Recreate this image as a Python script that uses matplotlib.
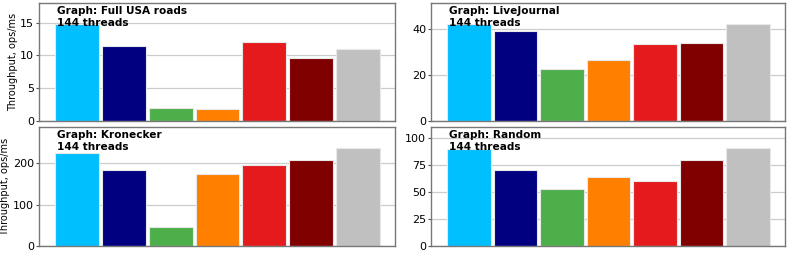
import matplotlib
matplotlib.use("Agg")
import matplotlib.pyplot as plt
import numpy as np

titles = ["Graph: Full USA roads", "Graph: LiveJournal", "Graph: Kronecker", "Graph: Random"]
threads_label = "144 threads"
usa = [14.85, 11.4, 2.04, 1.78, 12.1, 9.66, 11.03]
livejournal = [42.3, 39.0, 22.8, 26.6, 33.4, 33.9, 42.2]
kronecker = [224, 183, 46, 173.6, 195, 206.8, 235.8]
random_g = [90.3, 70.5, 53.1, 63.7, 60.0, 79.5, 90.7]
colors = ["#00BFFF", "#000080", "#4DAF4A", "#FF7F00", "#E41A1C", "#800000", "#C0C0C0"]
ylims = [18, 51.4, 287, 110.5]
yticks = [[0, 5, 10, 15], [0, 20, 40], [0, 100, 200], [0, 25, 50, 75, 100]]
series = [usa, livejournal, kronecker, random_g]

fig = plt.figure(figsize=(7.89, 2.56), dpi=100)
positions = [
    [39/789, 135/256, 356/789, 118/256],
    [431/789, 135/256, 354/789, 118/256],
    [39/789, 10/256, 356/789, 119/256],
    [431/789, 10/256, 354/789, 119/256],
]
label_x = {0: -0.058, 2: -0.080}
for i, (pos, vals) in enumerate(zip(positions, series)):
    ax = fig.add_axes(pos)
    x = np.arange(len(vals))
    ax.set_axisbelow(True)
    ax.yaxis.grid(True, color="#cccccc", linewidth=0.9)
    ax.bar(x, vals, width=0.94, color=colors, edgecolor="#e8e8e8", linewidth=0.8)
    ax.set_xlim(-0.82, 6.8)
    ax.set_ylim(0, ylims[i])
    ax.set_yticks(yticks[i])
    ax.set_xticks([])
    ax.tick_params(axis="y", labelsize=8, length=2, pad=1.5, color="#555555")
    for s in ax.spines.values():
        s.set_color("#777777")
        s.set_linewidth(1.0)
    ax.text(0.05, 0.975, titles[i] + "\n" + threads_label, transform=ax.transAxes,
            va="top", ha="left", fontsize=7.6, fontweight="bold", linespacing=1.3)
    if i % 2 == 0:
        ax.set_ylabel("Throughput, ops/ms", fontsize=7.0)
        ax.yaxis.set_label_coords(label_x[i], 0.5)

fig.savefig("out.png", dpi=100)
